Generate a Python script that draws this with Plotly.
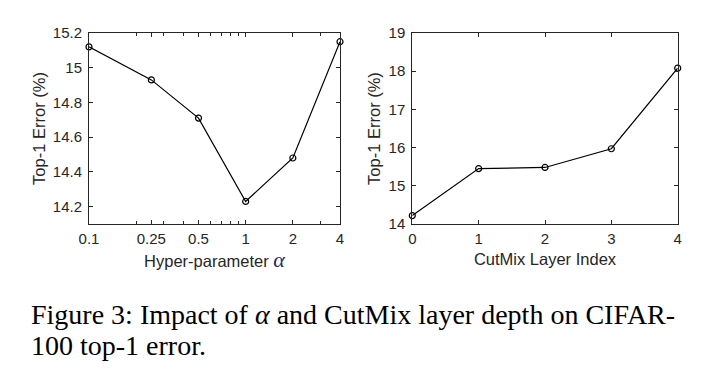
import plotly.graph_objects as go
from plotly.subplots import make_subplots

# Data
alpha_vals = [0.1, 0.25, 0.5, 1, 2, 4]
alpha_err = [15.12, 14.93, 14.71, 14.23, 14.48, 15.15]
alpha_ticklabels = ["0.1", "0.25", "0.5", "1", "2", "4"]
alpha_minor = [0.2, 0.3, 0.4, 0.6, 0.7, 0.8, 0.9, 3]

layer_idx = [0, 1, 2, 3, 4]
layer_err = [14.22, 15.45, 15.48, 15.97, 18.08]

caption_line1 = "Figure 3: Impact of <i>α</i> and CutMix layer depth on CIFAR-"
caption_line2 = "100 top-1 error."

OFF = 8  # default page margin around the plot div
W, H = 710 - OFF, 388 - OFF


def px_x(x):
    return (x - OFF) / W


def px_y(y):
    return 1 - (y - OFF) / H


fig = make_subplots(rows=1, cols=2)

line_style = dict(color="black", width=1.2)
marker_style = dict(symbol="circle-open", size=6, color="black", line=dict(width=1.2, color="black"))

fig.add_trace(go.Scatter(x=alpha_vals, y=alpha_err, mode="lines+markers",
                         line=line_style, marker=marker_style, showlegend=False,
                         cliponaxis=False), row=1, col=1)
fig.add_trace(go.Scatter(x=layer_idx, y=layer_err, mode="lines+markers",
                         line=line_style, marker=marker_style, showlegend=False,
                         cliponaxis=False), row=1, col=2)

axcol = "#262626"
tickfont = dict(family="Liberation Sans, Arial", size=15, color=axcol)
titlefont = dict(family="Liberation Sans, Arial", size=16.5, color=axcol)

common = dict(showline=True, linecolor=axcol, linewidth=1, mirror="allticks",
              ticks="inside", ticklen=4, tickcolor=axcol, tickwidth=1,
              showgrid=False, zeroline=False, tickfont=tickfont, title_font=titlefont,
              automargin=False)

y_top = px_y(33)
y_bot = px_y(224)

fig.update_xaxes(type="log", range=[-1, 0.60206], tickmode="array",
                 tickvals=alpha_vals, ticktext=alpha_ticklabels,
                 minor=dict(tickmode="array", tickvals=alpha_minor, ticks="inside",
                            ticklen=3, tickcolor=axcol, showgrid=False),
                 domain=[px_x(89), px_x(340)], ticklabelstandoff=1,
                 title=dict(text="Hyper-parameter <span style='font-family:Liberation Serif;font-style:italic;font-size:22px;fill:#1b2a66'>α</span>",
                            standoff=7),
                 **common, row=1, col=1)
fig.update_yaxes(range=[14.1, 15.2], tickmode="array",
                 tickvals=[14.2, 14.4, 14.6, 14.8, 15, 15.2],
                 ticktext=["14.2", "14.4", "14.6", "14.8", "15", "15.2"],
                 domain=[y_bot, y_top], ticklabelstandoff=3,
                 title=dict(text="Top-1 Error (%)", standoff=3),
                 **common, row=1, col=1)

fig.update_xaxes(range=[0, 4], tickmode="array", tickvals=[0, 1, 2, 3, 4],
                 domain=[px_x(412.3), px_x(677.7)], ticklabelstandoff=1,
                 title=dict(text="CutMix Layer Index", standoff=7),
                 **common, row=1, col=2)
fig.update_yaxes(range=[14, 19], tickmode="array", tickvals=[14, 15, 16, 17, 18, 19],
                 domain=[y_bot, y_top], ticklabelstandoff=3,
                 title=dict(text="Top-1 Error (%)", standoff=3),
                 **common, row=1, col=2)

capfont = dict(family="Liberation Serif, Times New Roman", size=28, color="black")
fig.add_annotation(text=caption_line1, xref="paper", yref="paper",
                   x=px_x(29), y=px_y(296.5), xanchor="left", yanchor="top",
                   showarrow=False, font=capfont)
fig.add_annotation(text=caption_line2, xref="paper", yref="paper",
                   x=px_x(29), y=px_y(327.5), xanchor="left", yanchor="top",
                   showarrow=False, font=capfont)

fig.update_layout(width=W, height=H, margin=dict(l=0, r=0, t=0, b=0),
                  paper_bgcolor="white", plot_bgcolor="white")

fig.write_html("out.html")
